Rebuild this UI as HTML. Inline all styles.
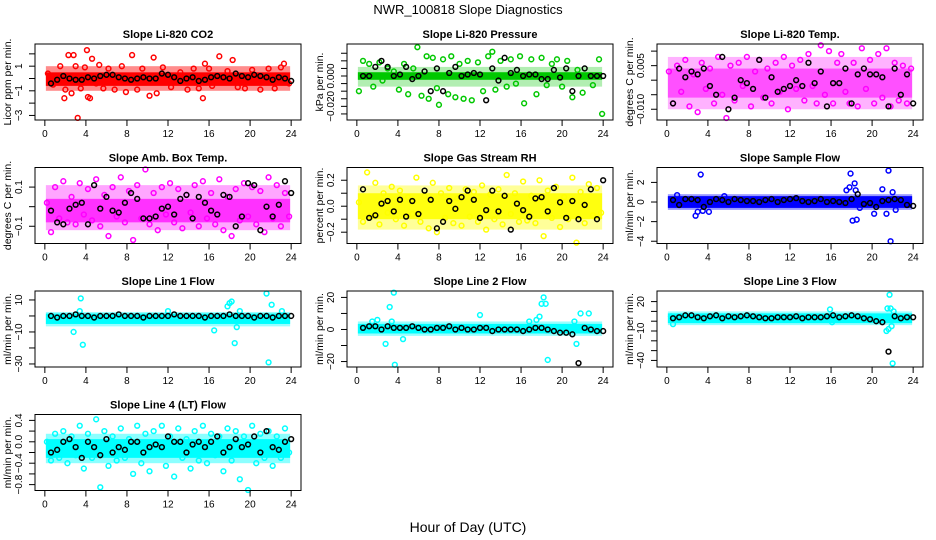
<!DOCTYPE html>
<html><head><meta charset="utf-8"><style>
html,body{margin:0;padding:0;background:#fff;}
svg{display:block;font-family:"Liberation Sans",sans-serif;}
</style></head><body>
<svg id="chart" width="936" height="540" viewBox="0 0 936 540" xmlns="http://www.w3.org/2000/svg">
<text x="468" y="14" text-anchor="middle" font-size="13">NWR_100818  Slope Diagnostics</text>
<text x="468" y="532" text-anchor="middle" font-size="14">Hour of Day (UTC)</text>
</svg>
<script>
const blackHours=[0.6,1.2,1.8,2.4,3.0,3.6,4.2,4.8,5.4,6.0,6.6,7.2,7.8,8.4,9.0,9.6,10.2,10.8,11.4,12.0,12.6,13.2,13.8,14.4,15.0,15.6,16.2,16.8,17.4,18.0,18.6,19.2,19.8,20.4,21.0,21.6,22.2,22.8,23.4,24.0];
const gridHours=[0.2,0.6,1.0,1.4,1.8,2.2,2.6,3.0,3.4,3.8,4.2,4.6,5.0,5.4,5.8,6.2,6.6,7.0,7.4,7.8,8.2,8.6,9.0,9.4,9.8,10.2,10.6,11.0,11.4,11.8,12.2,12.6,13.0,13.4,13.8,14.2,14.6,15.0,15.4,15.8,16.2,16.6,17.0,17.4,17.8,18.2,18.6,19.0,19.4,19.8,20.2,20.6,21.0,21.4,21.8,22.2,22.6,23.0,23.4,23.8];
const xTicks=[0,4,8,12,16,20,24];

const co2Hours=[0.3,0.8,1.5,1.9,2.0,2.3,2.6,2.8,3.0,3.2,3.5,3.9,4.1,4.2,4.4,4.6,5.0,5.3,5.7,6.2,6.8,7.5,7.9,8.5,9.0,9.5,10.2,10.6,10.9,11.5,12.3,13.2,13.9,14.5,15.0,15.4,15.6,16.0,16.3,17.0,17.8,18.3,18.8,19.5,20.2,21.0,21.8,22.4,23.0,23.3,23.8];
const co2Vals=[0.4,-0.5,1.0,-1.6,-0.9,1.9,-1.2,1.9,1.0,-3.2,-0.8,0.9,2.3,-1.5,-1.6,1.6,-0.4,1.1,-0.8,0.8,-0.9,1.0,-1.1,1.9,-0.9,0.8,-1.4,1.7,-1.2,0.9,-0.7,0.5,-0.9,0.8,-0.8,-1.6,1.2,0.8,-0.6,1.8,0.6,1.5,-0.7,-0.8,0.7,-0.9,0.8,-0.8,0.9,1.2,-0.4];
const co2Black=[-0.4,-0.1,0.2,0.0,-0.1,-0.1,0.1,0.0,0.2,0.3,0.3,0.1,0.0,-0.1,0.0,0.1,0.0,0.0,0.4,0.3,0.1,-0.2,0.0,0.1,-0.2,-0.1,0.1,0.2,0.1,0.0,0.4,0.2,0.1,0.3,0.2,0.1,-0.1,0.1,0.0,-0.2];

const presHours=[0.2,0.6,1.2,1.6,2.2,2.5,3.0,3.6,4.1,4.6,5.0,5.5,5.9,6.3,6.8,7.0,7.4,7.8,8.0,8.4,8.9,9.2,9.6,10.0,10.4,10.8,11.2,11.8,12.3,12.8,13.2,13.5,14.0,14.6,15.0,15.5,15.9,16.3,17.0,17.5,18.0,18.5,19.0,19.5,20.0,20.5,21.0,21.5,22.0,23.0,23.6,23.9];
const presVals=[-0.010,0.010,0.008,-0.007,0.009,-0.003,0.005,0.003,-0.009,0.008,-0.012,0.005,0.019,-0.013,0.013,-0.015,0.012,-0.008,-0.019,0.011,-0.012,0.013,-0.014,0.008,-0.015,0.010,-0.016,0.009,-0.010,0.013,0.016,-0.009,0.010,-0.007,0.011,-0.005,0.013,-0.018,0.011,-0.012,0.012,-0.006,0.008,0.011,-0.007,0.010,-0.014,0.004,-0.011,-0.006,0.011,-0.025];
const presBlack=[0,0,0.006,0.010,0.006,0,0.001,0.006,-0.002,0,0.003,-0.010,0.005,-0.010,0.002,0.006,0,0.001,0.002,0.001,-0.016,0.005,-0.003,0.012,0.002,0.004,0,0.001,0.001,-0.002,-0.002,0.004,-0.001,0.005,-0.010,0,0.005,0,0,0];

const tempVals=[0.003,-0.008,0.005,-0.004,0.007,-0.009,0.002,-0.011,0.006,-0.003,0.004,-0.008,0.008,-0.005,-0.013,0.005,-0.007,0.006,-0.002,0.008,-0.009,0.003,0.007,-0.006,0.004,-0.008,0.006,-0.004,0.008,-0.010,0.005,-0.003,0.007,-0.007,0.009,-0.002,-0.008,0.012,-0.005,0.010,-0.008,0.006,0.009,-0.004,-0.008,0.006,-0.009,0.011,-0.003,0.007,-0.008,0.009,-0.006,0.011,-0.009,0.006,-0.007,0.005,-0.008,0.004];
const tempBlack=[-0.008,0.004,0.001,0.003,0.002,0.004,-0.002,-0.005,0.008,-0.010,-0.006,0,-0.001,-0.003,0.007,-0.006,0.001,-0.004,-0.003,-0.002,0,-0.002,0.006,-0.001,0.003,-0.009,-0.001,-0.001,0.004,-0.008,0.002,0.004,0.002,0.002,0.001,-0.009,0.004,-0.005,0.002,-0.008];

const ambVals=[0.02,-0.13,0.10,-0.06,0.13,-0.08,0.05,-0.09,0.12,-0.04,0.09,-0.07,0.14,-0.10,0.06,-0.15,0.10,-0.05,0.15,-0.08,0.08,-0.17,0.11,-0.06,0.19,-0.09,0.07,-0.12,0.10,-0.04,0.12,-0.08,0.09,-0.11,0.06,-0.03,0.11,-0.10,0.13,-0.06,0.07,-0.09,0.14,-0.12,0.05,-0.15,0.09,-0.07,0.12,-0.05,0.10,-0.09,0.08,-0.13,0.15,-0.06,0.11,-0.10,0.07,-0.05];
const ambBlack=[-0.02,-0.08,-0.09,-0.01,0.01,0.02,-0.09,0.11,-0.01,0.05,-0.02,-0.03,0.02,0.07,0.04,-0.06,-0.06,-0.05,-0.01,0,-0.04,0.04,0.06,-0.06,0.05,0.02,-0.02,-0.04,0.06,0.05,-0.10,-0.05,0.12,0.11,-0.12,0,-0.05,0.01,0.13,0.07];

const rhVals=[0.03,-0.12,0.26,-0.08,0.18,-0.14,0.10,-0.05,0.15,-0.10,0.12,-0.15,0.07,-0.06,0.22,-0.12,0.08,-0.17,0.18,-0.20,0.10,-0.09,0.14,-0.13,0.06,-0.15,0.13,-0.08,0.11,-0.12,0.16,-0.18,0.09,-0.10,0.13,-0.14,0.24,-0.06,0.10,-0.12,0.19,-0.11,0.08,-0.13,0.20,-0.23,0.12,-0.09,0.15,-0.16,0.07,-0.10,0.22,-0.28,0.11,-0.13,0.17,-0.07,0.14,-0.05];
const rhBlack=[0.13,-0.09,-0.07,0.02,0.04,-0.04,0.05,-0.08,0.04,-0.06,0.12,0.05,-0.17,-0.12,0.04,-0.02,0.07,0.12,0.05,-0.09,-0.03,0.12,-0.04,0.08,-0.18,0.02,-0.03,-0.08,0.06,0.07,-0.04,0.14,0.03,-0.09,0.04,-0.10,0.01,0.13,-0.10,0.20];

const flowHours=[1.0,2.8,3.0,3.3,3.5,4.1,5.6,17.5,17.8,17.9,18.1,18.3,18.4,18.5,18.8,20.2,21.0,21.4,21.6,21.8,22.0,22.3];
const flowVals=[0.7,-1.4,-1.0,2.8,-0.9,-1.0,0.6,1.2,1.5,2.9,-1.9,1.9,1.2,-1.8,-0.6,-1.2,1.3,-1.2,3.2,-4.0,1.0,-0.8];
const flowBlack=[0.2,-0.3,0.3,0.3,0.2,-0.5,0.0,0.3,0.2,0.0,0.3,0.2,0.1,0.1,0.0,0.2,0.3,0.0,0.2,0.3,0.4,0.1,0.0,0.1,0.3,0.0,0.1,0.0,-0.1,0.3,0.8,-0.2,-0.1,-0.5,0.1,0.2,0.3,0.2,-0.3,-0.4];

const l1Hours=[2.8,3.4,3.5,3.7,12.0,16.5,17.8,18.0,18.2,18.5,18.7,19.0,21.6,21.8,22.1,23.1];
const l1Vals=[-10,3,11,-18,3,-9,6,8,9,-17,-7,3,14,-29,7,3];
const l1Black=[0,-1,0,0,1,0,0,-1,0,0,0,1,0,0,0,-1,0,0,0,0,1,0,0,0,0,-1,0,0,0,1,0,0,0,-1,0,0,-1,0,0,0];

const l2Hours=[1.5,2.0,2.8,3.2,3.4,3.6,3.7,4.5,12.0,16.8,17.5,17.8,18.0,18.2,18.4,18.6,21.2,21.4,21.8,22.6];
const l2Vals=[5,6,-9,14,5,23,-22,-6,9,5,6,8,16,20,16,-19,5,-9,10,10];
const l2Black=[1,2,2,0,2,1,1,1,2,1,0,0,1,1,2,0,1,0,0,1,1,-1,0,0,0,0,-1,0,1,1,0,-1,-2,-2,-3,-21,1,0,-1,-1];

const l3Hours=[0.4,0.6,15.9,16.1,21.4,21.5,21.6,21.7,21.8,21.9,22.0,22.1,22.3];
const l3Vals=[5,-3,12,-1,-10,13,-8,27,13,-5,-43,10,5];
const l3Black=[3,4,6,6,4,3,5,6,3,5,4,5,6,5,4,3,3,4,4,4,5,3,4,4,4,5,6,4,5,6,5,3,2,0,-1,-31,5,3,4,4];

const l4Vals=[0.0,-0.35,0.15,-0.3,0.2,-0.4,0.1,-0.25,0.3,-0.5,0.15,-0.3,0.42,-0.85,0.2,-0.45,0.1,-0.35,0.25,-0.3,0.05,-0.6,0.3,-0.4,0.15,-0.55,0.2,-0.2,0.3,-0.45,0.1,-0.65,0.25,-0.3,0.05,-0.5,0.2,-0.35,0.3,-0.4,0.15,-0.25,0.1,-0.55,0.25,-0.35,0.2,-0.7,0.1,-0.9,0.3,-0.4,0.15,-0.3,0.2,-0.45,0.1,-0.3,0.25,-0.2];
const l4Black=[-0.2,-0.15,0.0,0.05,-0.1,-0.3,0.0,-0.1,-0.25,0.05,-0.2,-0.1,-0.15,0.0,0.0,-0.2,-0.1,-0.05,-0.1,0.1,0.0,0.0,-0.2,-0.05,0.0,-0.1,0.0,0.1,-0.2,-0.1,0.05,-0.1,-0.05,0.1,-0.2,0.2,-0.1,-0.15,0.0,0.05];

const panels=[
 {id:'co2',title:'Slope Li-820 CO2',ylab:'Licor ppm per min.',col:0,row:0,ylim:[-3.37,2.8],ticks:[-3,-2,-1,0,1,2],labels:[-3,-1,1],fmt:v=>String(v).replace('-','\u2212'),color:'#ff0000',band:[-0.6,0.5],bandOp:1,outer:[-1.0,1.0],outerOp:0.45,hx:co2Hours,vals:co2Vals,black:co2Black},
 {id:'pressure',title:'Slope Li-820 Pressure',ylab:'kPa per min.',col:1,row:0,ylim:[-0.029,0.0211],ticks:[-0.025,-0.02,-0.015,-0.01,-0.005,0,0.005,0.01,0.015],labels:[-0.02,0],fmt:v=>v.toFixed(3).replace('-','\u2212'),color:'#00c800',band:[-0.0025,0.0025],bandOp:1,outer:[-0.007,0.006],outerOp:0.3,hx:presHours,vals:presVals,black:presBlack},
 {id:'temp',title:'Slope Li-820 Temp.',ylab:'degrees C per min.',col:2,row:0,ylim:[-0.0137,0.01245],ticks:[-0.01,-0.005,0,0.005,0.01],labels:[-0.01,0.005],fmt:v=>v.toFixed(3).replace('-','\u2212'),color:'#ff00ff',band:[-0.006,0.004],bandOp:0.55,outer:[-0.01,0.008],outerOp:0.3,hx:gridHours,vals:tempVals,black:tempBlack},
 {id:'ambtemp',title:'Slope Amb. Box Temp.',ylab:'degrees C per min.',col:0,row:1,ylim:[-0.188,0.2],ticks:[-0.1,0,0.1],labels:[-0.1,0.1],fmt:v=>v.toFixed(1).replace('-','\u2212'),color:'#ff00ff',band:[-0.08,0.04],bandOp:0.7,outer:[-0.12,0.11],outerOp:0.35,hx:gridHours,vals:ambVals,black:ambBlack},
 {id:'rh',title:'Slope Gas Stream RH',ylab:'percent per min.',col:1,row:1,ylim:[-0.287,0.298],ticks:[-0.2,-0.1,0,0.1,0.2],labels:[-0.2,0,0.2],fmt:v=>v.toFixed(1).replace('-','\u2212'),color:'#ffff00',band:[-0.1,0.1],bandOp:0.9,outer:[-0.18,0.16],outerOp:0.4,hx:gridHours,vals:rhVals,black:rhBlack},
 {id:'sampleflow',title:'Slope Sample Flow',ylab:'ml/min per min.',col:2,row:1,ylim:[-4.23,3.52],ticks:[-4,-2,0,2],labels:[-4,-2,0,2],fmt:v=>String(v).replace('-','\u2212'),color:'#0000ff',band:[-0.6,0.6],bandOp:1,outer:[-0.8,0.8],outerOp:0.4,hx:flowHours,vals:flowVals,black:flowBlack},
 {id:'line1',title:'Slope Line 1 Flow',ylab:'ml/min per min.',col:0,row:2,ylim:[-31.9,15.6],ticks:[-30,-20,-10,0,10],labels:[-30,-10,10],fmt:v=>String(v).replace('-','\u2212'),color:'#00ffff',band:[-5,1.5],bandOp:1,outer:[-6.5,2.5],outerOp:0.4,hx:l1Hours,vals:l1Vals,black:l1Black},
 {id:'line2',title:'Slope Line 2 Flow',ylab:'ml/min per min.',col:1,row:2,ylim:[-23.4,24],ticks:[-20,-10,0,10,20],labels:[-20,0,20],fmt:v=>String(v).replace('-','\u2212'),color:'#00ffff',band:[-2.5,3.5],bandOp:1,outer:[-4,5],outerOp:0.4,hx:l2Hours,vals:l2Vals,black:l2Black},
 {id:'line3',title:'Slope Line 3 Flow',ylab:'ml/min per min.',col:2,row:2,ylim:[-46.7,30.8],ticks:[-40,-30,-20,-10,0,10,20],labels:[-40,-10,20],fmt:v=>String(v).replace('-','\u2212'),color:'#00ffff',band:[-2,8],bandOp:1,outer:[-4,10],outerOp:0.4,hx:l3Hours,vals:l3Vals,black:l3Black},
 {id:'line4',title:'Slope Line 4 (LT) Flow',ylab:'ml/min per min.',col:0,row:3,ylim:[-0.91,0.51],ticks:[-0.8,-0.6,-0.4,-0.2,0,0.2,0.4],labels:[-0.8,-0.4,0,0.4],fmt:v=>v.toFixed(1).replace('-','\u2212'),color:'#00ffff',band:[-0.3,0.05],bandOp:1,outer:[-0.4,0.15],outerOp:0.45,hx:gridHours,vals:l4Vals,black:l4Black}
];

const NS='http://www.w3.org/2000/svg';
const svg=document.getElementById('chart');
function mk(tag,attrs,parent){const e=document.createElementNS(NS,tag);for(const k in attrs)e.setAttribute(k,attrs[k]);(parent||svg).appendChild(e);return e;}
const colX=[35,347,657], W=266, H=76, rowY=[44,167.5,291,414.5];

panels.forEach(p=>{
  const L=colX[p.col], T=rowY[p.row], R=L+W, B=T+H;
  const g=mk('g',{});
  
  
  const xs=h=>L+(h+0.96)/25.92*W;
  const ys=v=>B-(v-p.ylim[0])/(p.ylim[1]-p.ylim[0])*H;
  const t=mk('text',{x:(L+R)/2,y:T-6,'text-anchor':'middle','font-size':11,'font-weight':'bold'},g);
  t.textContent=p.title;
  
  
  const ob=mk('rect',{x:xs(0.1),y:ys(p.outer[1]),width:xs(23.9)-xs(0.1),height:ys(p.outer[0])-ys(p.outer[1]),fill:p.color,opacity:p.outerOp},g);
  
  
  const bd=mk('rect',{x:xs(0.1),y:ys(p.band[1]),width:xs(23.9)-xs(0.1),height:ys(p.band[0])-ys(p.band[1]),fill:p.color,opacity:p.bandOp},g);
  
  
  const n=Math.min(p.hx.length,p.vals.length);
  for(let i=0;i<n;i++){
    const c=mk('circle',{cx:xs(p.hx[i]),cy:ys(p.vals[i]),r:2.4,fill:'none',stroke:p.color,'stroke-width':1.5},g);
    
    
  }
  const m=Math.min(blackHours.length,p.black.length);
  for(let i=0;i<m;i++){
    const c=mk('circle',{cx:xs(blackHours[i]),cy:ys(p.black[i]),r:2.4,fill:'none',stroke:'#000','stroke-width':1.5},g);
    
    
  }
  const box=mk('rect',{x:L,y:T,width:W,height:H,fill:'none',stroke:'#000','stroke-width':1},g);
  
  
  mk('line',{x1:xs(0),x2:xs(24),y1:B,y2:B,stroke:'#000'},g);
  xTicks.forEach(h=>{
    mk('line',{x1:xs(h),x2:xs(h),y1:B,y2:B+6,stroke:'#000'},g);
    const tx=mk('text',{x:xs(h),y:B+17,'text-anchor':'middle','font-size':10},g);
    tx.textContent=h;
    
    
  });
  p.ticks.forEach(v=>{
    mk('line',{x1:L-6,x2:L,y1:ys(v),y2:ys(v),stroke:'#000'},g);
  });
  p.labels.forEach(v=>{
    const y=ys(v), x=L-13;
    const ty=mk('text',{x:x,y:y,'text-anchor':'middle','font-size':10,transform:`rotate(-90 ${x} ${y})`},g);
    ty.textContent=p.fmt(v);
    
    
  });
  const yx=L-24, yy=(T+B)/2;
  const yl=mk('text',{x:yx,y:yy,'text-anchor':'middle','font-size':10.5,transform:`rotate(-90 ${yx} ${yy})`},g);
  yl.textContent=p.ylab;
  
  
});
</script>
</body></html>
